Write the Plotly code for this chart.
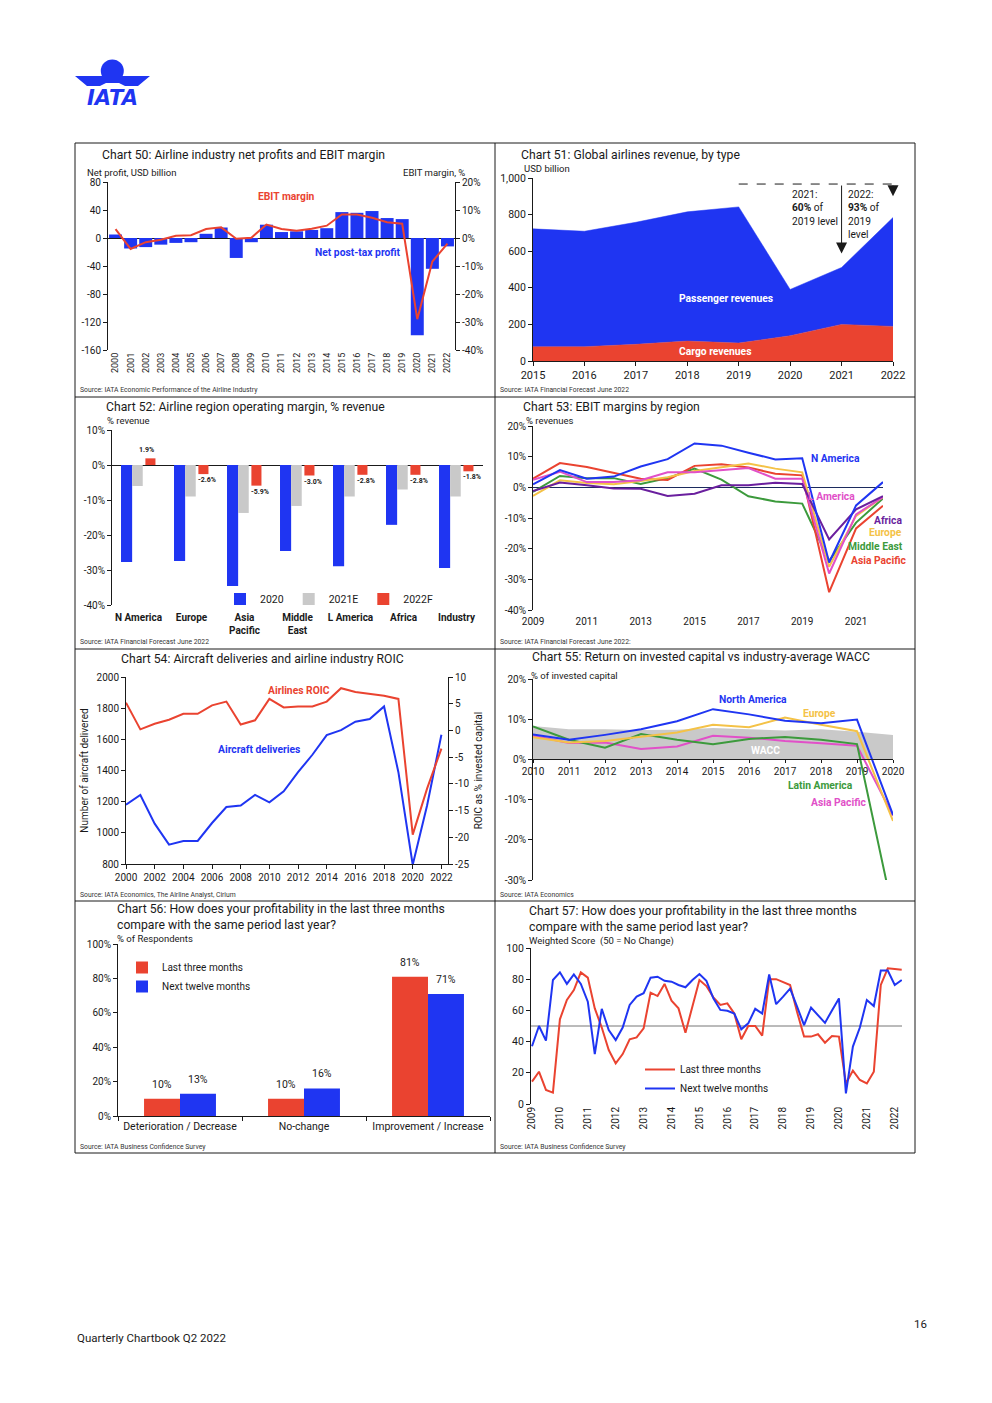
import plotly.graph_objects as go

# The browser page keeps its default 8px body margin, so the figure is sized to fill the
# 992x1403 window exactly and page-pixel positions are converted to figure fractions.
PAGE_W, PAGE_H, M = 992, 1403, 8
W, H = PAGE_W - 2 * M, PAGE_H - 2 * M
def X(p): return (p - M) / W
def Y(p): return 1 - (p - M) / H

FONT = "Roboto"
INK = "#1a1a1a"
BLUE = "#1f35f2"
RED = "#ea4330"
GREY = "#c9c9c9"
YELLOW = "#f4c247"
GREEN = "#3c9a3c"
PINK = "#e150c8"
PURPLE = "#6a1f9e"
NAVY = "#1c2b5e"

# ---------------- Data ----------------
# Chart 50
c50_years = list(range(2000, 2023))
c50_net_profit = [5, -15, -13, -9.5, -7, -6, 6, 15, -28.5, -6, 19, 8.5, 9.5, 11.5, 14, 37, 36, 38.5, 28.5, 27, -139, -44, -12]
c50_ebit_margin = [3.2, -3.9, -1.5, -0.6, 0.8, 1.0, 3.2, 3.8, -0.3, 0.1, 4.8, 3.2, 2.6, 3.3, 4.4, 8.4, 8.4, 7.2, 5.6, 5.1, -29.0, -8.4, -2.0]
c50_left_ticks = [-160, -120, -80, -40, 0, 40, 80]
c50_right_ticks = [-40, -30, -20, -10, 0, 10, 20]

# Chart 51
c51_years = list(range(2015, 2023))
c51_cargo = [78, 78, 91, 109, 98, 138, 200, 189]
c51_passenger = [644, 631, 667, 706, 744, 253, 311, 595]
c51_ticks = [0, 200, 400, 600, 800, 1000]
c51_ticktext = ["0", "200", "400", "600", "800", "1,000"]
c51_ref_level = 967
c51_arrow_2021 = 588
c51_arrow_2022 = 900

# Chart 52
c52_regions = ["N America", "Europe", "Asia Pacific", "Middle East", "L America", "Africa", "Industry"]
c52_region_labels = ["N America", "Europe", "Asia<br>Pacific", "Middle<br>East", "L America", "Africa", "Industry"]
c52_2020 = [-27.7, -27.4, -34.6, -24.6, -28.9, -17.1, -29.4]
c52_2021E = [-6.0, -9.0, -13.7, -11.7, -9.0, -7.0, -9.0]
c52_2022F = [1.9, -2.6, -5.9, -3.0, -2.8, -2.8, -1.8]
c52_ticks = [-40, -30, -20, -10, 0, 10]

# Chart 53
c53_years = list(range(2009, 2023))
c53_n_america = [1.0, 5.6, 2.8, 3.5, 6.8, 9.2, 14.3, 13.6, 11.3, 9.1, 9.5, -24.5, -5.9, 1.7]
c53_europe = [-2.8, 2.3, 1.4, 1.0, 2.1, 3.3, 5.3, 6.6, 7.8, 6.1, 4.9, -25.9, -9.3, -3.2]
c53_asia_pacific = [2.8, 7.9, 6.6, 4.7, 2.8, 2.4, 7.0, 7.5, 6.5, 4.4, 3.9, -34.2, -13.4, -6.0]
c53_middle_east = [-1.5, 3.7, 3.0, 3.0, 1.1, 3.0, 6.1, 2.5, -2.9, -4.6, -5.3, -24.0, -11.5, -3.6]
c53_l_america = [2.5, 5.1, 1.7, 1.7, 2.3, 4.9, 4.9, 5.5, 6.3, 2.8, 2.8, -28.1, -8.8, -3.2]
c53_africa = [-1.2, 1.6, 0.7, -0.4, -0.5, -2.8, -2.1, 0.7, 0.7, 1.5, 1.1, -17.0, -7.2, -2.9]
c53_ticks = [-40, -30, -20, -10, 0, 10, 20]
c53_xticks = [2009, 2011, 2013, 2015, 2017, 2019, 2021]

# Chart 54
c54_years = list(range(2000, 2023))
c54_deliveries = [1181, 1243, 1059, 924, 948, 948, 1063, 1166, 1175, 1243, 1196, 1267, 1389, 1501, 1627, 1659, 1713, 1730, 1811, 1389, 795, 1175, 1629]
c54_roic = [5.2, 0.2, 1.25, 2.0, 3.1, 3.1, 4.7, 5.4, 1.1, 1.9, 5.9, 4.3, 4.5, 4.5, 5.4, 7.9, 7.2, 6.8, 6.5, 5.9, -19.5, -10.9, -3.4]
c54_left_ticks = [800, 1000, 1200, 1400, 1600, 1800, 2000]
c54_right_ticks = [-25, -20, -15, -10, -5, 0, 5, 10]
c54_xticks = list(range(2000, 2023, 2))

# Chart 55
c55_years = list(range(2010, 2021))
c55_wacc = [8.3, 7.5, 7.5, 7.3, 7.4, 7.8, 7.5, 7.2, 7.5, 6.9, 6.1]
c55_north_america = [6.2, 4.9, 6.1, 7.5, 9.5, 12.5, 11.2, 9.6, 9.0, 9.9, -13.8]
c55_europe = [5.5, 4.2, 4.6, 5.7, 6.7, 8.6, 8.0, 10.4, 8.6, 7.0, -15.3]
c55_latin_america = [8.2, 4.9, 2.9, 6.3, 4.9, 3.8, 5.1, 5.6, 4.9, 3.8, -38.0]
c55_asia_pacific = [5.9, 4.1, 4.2, 2.6, 3.2, 5.9, 5.4, 4.6, 4.0, 3.4, -14.0]
c55_ticks = [-30, -20, -10, 0, 10, 20]

# Chart 56
c56_categories = ["Deterioration / Decrease", "No-change", "Improvement / Increase"]
c56_last_three = [10, 10, 81]
c56_next_twelve = [13, 16, 71]
c56_ticks = [0, 20, 40, 60, 80, 100]

# Chart 57 (quarterly, 2009 Q1 - 2022 Q2)
c57_quarters = [f"{y} Q{q}" for y in range(2009, 2023) for q in range(1, 5)][:54]
c57_last_three = [14.3, 20.7, 9, 7.3, 54.3, 66.7, 73, 84.4, 81, 61.3, 49, 34.6, 26, 32, 41.5, 42.7,
                  48.5, 71.4, 69.2, 77, 66.2, 61.3, 45.7, 62.8, 79.5, 75.6, 68.4, 63.5, 64.5, 58, 41.5, 50,
                  50, 43.8, 80, 80, 78.4, 76.3, 59, 43.2, 43.2, 44.7, 39.3, 43.6, 43.2, 13.2, 21.4, 15.4,
                  13.2, 20.7, 76.3, 87, 86.5, 86]
c57_next_twelve = [37, 50, 40.6, 79.5, 84.4, 77, 83, 77, 65.6, 32, 61, 47.4, 41, 49, 63.5, 68.8,
                   71, 81, 81.6, 79, 78.4, 76.3, 74.8, 79.5, 83.3, 79, 67.7, 60.3, 59.8, 58, 47.9, 51.7,
                   61, 58, 83, 64, 68.8, 74, 62.4, 50.6, 61.8, 57, 52, 60, 67.7, 6.8, 36.8, 49,
                   66.7, 62.8, 85.5, 85.5, 76.3, 79.5]
c57_no_change = 50
c57_ticks = [0, 20, 40, 60, 80, 100]
c57_xticks = list(range(2009, 2023))
c57_x = [int(s[:4]) + (int(s[-1]) - 1) / 4 for s in c57_quarters]

# ---------------- Helpers ----------------
TK = 10  # tick font size

def pct(vals):
    return [f"{v}%" for v in vals]

def yax(top, bottom, rng, vals, texts, anchor, size=TK, **kw):
    d = dict(domain=[Y(bottom), Y(top)], range=rng, tickvals=vals, ticktext=texts, anchor=anchor,
             showline=True, linecolor=INK, linewidth=1, ticks="outside", ticklen=4, tickcolor=INK,
             showgrid=False, zeroline=False, tickfont=dict(size=size, color=INK), fixedrange=True,
             automargin=False)
    d.update(kw)
    return d

def xax(left, right, anchor, size=TK, **kw):
    d = dict(domain=[X(left), X(right)], anchor=anchor, showgrid=False, zeroline=False,
             showline=False, ticks="", tickfont=dict(size=size, color=INK), fixedrange=True,
             automargin=False, tickangle=0)
    d.update(kw)
    return d

def note(x, y, text, size=10, color=INK, xanchor="left", yanchor="middle", bold=False, **kw):
    d = dict(xref="paper", yref="paper", x=X(x), y=Y(y), text=text, showarrow=False,
             xanchor=xanchor, yanchor=yanchor,
             font=dict(family=FONT, size=size, color=color, weight="bold" if bold else "normal"))
    d.update(kw)
    return d

fig = go.Figure()

# ---------------- Chart 50 ----------------
fig.add_bar(x=c50_years, y=c50_net_profit, width=0.86, marker=dict(color=BLUE, line=dict(width=0)),
            xaxis="x", yaxis="y", showlegend=False, name="Net post-tax profit")
fig.add_scatter(x=c50_years, y=c50_ebit_margin, mode="lines", line=dict(color=RED, width=2),
                xaxis="x", yaxis="y2", showlegend=False, name="EBIT margin")

# ---------------- Chart 51 ----------------
fig.add_scatter(x=c51_years, y=c51_cargo, stackgroup="rev", mode="lines", line=dict(color=RED, width=0.5),
                fillcolor=RED, xaxis="x2", yaxis="y3", showlegend=False, name="Cargo revenues")
fig.add_scatter(x=c51_years, y=c51_passenger, stackgroup="rev", mode="lines", line=dict(color=BLUE, width=0.5),
                fillcolor=BLUE, xaxis="x2", yaxis="y3", showlegend=False, name="Passenger revenues")

# ---------------- Chart 52 ----------------
fig.add_bar(x=c52_regions, y=c52_2020, width=0.21, offset=-0.33, marker=dict(color=BLUE, line=dict(width=0)),
            xaxis="x3", yaxis="y4", name="2020", legend="legend")
fig.add_bar(x=c52_regions, y=c52_2021E, width=0.2, offset=-0.12, marker=dict(color=GREY, line=dict(width=0)),
            xaxis="x3", yaxis="y4", name="2021E", legend="legend")
fig.add_bar(x=c52_regions, y=c52_2022F, width=0.19, offset=0.13, marker=dict(color=RED, line=dict(width=0)),
            xaxis="x3", yaxis="y4", name="2022F", legend="legend")

# ---------------- Chart 53 ----------------
for vals, col, nm in [(c53_middle_east, GREEN, "Middle East"), (c53_asia_pacific, RED, "Asia Pacific"),
                      (c53_europe, YELLOW, "Europe"), (c53_l_america, PINK, "L America"),
                      (c53_africa, PURPLE, "Africa"), (c53_n_america, BLUE, "N America")]:
    fig.add_scatter(x=c53_years, y=vals, mode="lines", line=dict(color=col, width=2),
                    xaxis="x4", yaxis="y5", showlegend=False, name=nm)

# ---------------- Chart 54 ----------------
fig.add_scatter(x=c54_years, y=c54_deliveries, mode="lines", line=dict(color=BLUE, width=2),
                xaxis="x5", yaxis="y6", showlegend=False, name="Aircraft deliveries")
fig.add_scatter(x=c54_years, y=c54_roic, mode="lines", line=dict(color=RED, width=2),
                xaxis="x5", yaxis="y7", showlegend=False, name="Airlines ROIC")

# ---------------- Chart 55 ----------------
fig.add_scatter(x=c55_years, y=c55_wacc, mode="lines", fill="tozeroy", fillcolor=GREY, line=dict(width=0, color=GREY),
                xaxis="x6", yaxis="y8", showlegend=False, name="WACC")
for vals, col, nm in [(c55_asia_pacific, PINK, "Asia Pacific"), (c55_latin_america, GREEN, "Latin America"),
                      (c55_europe, YELLOW, "Europe"), (c55_north_america, BLUE, "North America")]:
    fig.add_scatter(x=c55_years, y=vals, mode="lines", line=dict(color=col, width=2),
                    xaxis="x6", yaxis="y8", showlegend=False, name=nm)

# ---------------- Chart 56 ----------------
fig.add_bar(x=c56_categories, y=c56_last_three, width=0.29, offset=-0.29, marker=dict(color=RED, line=dict(width=0)),
            xaxis="x7", yaxis="y9", name="Last three months", legend="legend2")
fig.add_bar(x=c56_categories, y=c56_next_twelve, width=0.29, offset=0.0, marker=dict(color=BLUE, line=dict(width=0)),
            xaxis="x7", yaxis="y9", name="Next twelve months", legend="legend2")

# ---------------- Chart 57 ----------------
fig.add_scatter(x=c57_x, y=c57_last_three, mode="lines", line=dict(color=RED, width=2),
                xaxis="x8", yaxis="y10", name="Last three months", legend="legend3")
fig.add_scatter(x=c57_x, y=c57_next_twelve, mode="lines", line=dict(color=BLUE, width=2),
                xaxis="x8", yaxis="y10", name="Next twelve months", legend="legend3")

# ---------------- Axes ----------------
layout_axes = dict(
    # chart 50
    xaxis=xax(108, 455, "y", size=9, range=[1999.5, 2022.5], tickvals=c50_years,
              ticktext=[str(v) for v in c50_years], tickangle=-90),
    yaxis=yax(182, 350, [-160, 80], c50_left_ticks, [str(v) for v in c50_left_ticks], "x",
              zeroline=True, zerolinecolor=INK, zerolinewidth=1),
    yaxis2=yax(182, 350, [-40, 20], c50_right_ticks, pct(c50_right_ticks), "x", overlaying="y", side="right"),
    # chart 51
    xaxis2=xax(533, 893, "y3", size=11, range=[2015, 2022], tickvals=c51_years,
               ticktext=[str(v) for v in c51_years],
               showline=True, linecolor=INK, ticks="outside", ticklen=4, tickcolor=INK),
    yaxis3=yax(178, 361, [0, 1000], c51_ticks, c51_ticktext, "x2", size=10.5),
    # chart 52
    xaxis3=xax(112, 483, "y4", type="category", categoryorder="array", categoryarray=c52_regions,
               tickvals=c52_regions, ticktext=c52_region_labels, ticklabelstandoff=5,
               tickfont=dict(size=10, color=INK, weight="bold")),
    yaxis4=yax(430, 605, [-40, 10], c52_ticks, pct(c52_ticks), "x3",
               zeroline=True, zerolinecolor=INK, zerolinewidth=1),
    # chart 53
    xaxis4=xax(533, 883, "y5", range=[2009, 2022], tickvals=c53_xticks, ticktext=[str(v) for v in c53_xticks],
               ticklabelstandoff=4),
    yaxis5=yax(426, 610, [-40, 20], c53_ticks, pct(c53_ticks), "x4",
               zeroline=True, zerolinecolor=NAVY, zerolinewidth=1.2),
    # chart 54
    xaxis5=xax(126, 448, "y6", range=[2000, 2022.46], tickvals=c54_xticks, ticktext=[str(v) for v in c54_xticks],
               showline=True, linecolor=INK, ticks="outside", ticklen=4, tickcolor=INK),
    yaxis6=yax(677, 864, [800, 2000], c54_left_ticks, [str(v) for v in c54_left_ticks], "x5",
               title=dict(text="Number of aircraft delivered", font=dict(size=10, color=INK), standoff=6)),
    yaxis7=yax(677, 864, [-25, 10], c54_right_ticks, [str(v) for v in c54_right_ticks], "x5",
               overlaying="y6", side="right",
               title=dict(text="ROIC as % invested capital", font=dict(size=10, color=INK), standoff=6)),
    # chart 55
    xaxis6=xax(533, 893, "free", position=Y(759.4), range=[2010, 2020], tickvals=c55_years,
               ticktext=[str(v) for v in c55_years], showline=True, linecolor=INK, ticks="outside",
               ticklen=3, tickcolor=INK),
    yaxis8=yax(679, 880, [-30, 20], c55_ticks, pct(c55_ticks), "x6"),
    # chart 56
    xaxis7=xax(118, 490, "y9", size=10.5, type="category", showline=True, linecolor=INK, ticks="outside",
               ticklen=4, tickcolor=INK, tickson="boundaries"),
    yaxis9=yax(944, 1116, [0, 100], c56_ticks, pct(c56_ticks), "x7"),
    # chart 57
    xaxis8=xax(531, 902, "y10", range=[2008.964, 2022.26], tickvals=c57_xticks,
               ticktext=[str(v) for v in c57_xticks], tickangle=-90),
    yaxis10=yax(948, 1104, [0, 100], c57_ticks, [str(v) for v in c57_ticks], "x8", size=10.5),
)

# ---------------- Shapes ----------------
shapes = []
line_k = dict(color=INK, width=1)
shapes.append(dict(type="rect", xref="paper", yref="paper", x0=X(75), x1=X(915), y0=Y(1153), y1=Y(143), line=line_k))
shapes.append(dict(type="line", xref="paper", yref="paper", x0=X(495), x1=X(495), y0=Y(1153), y1=Y(143), line=line_k))
for yy in [397, 649, 901]:
    shapes.append(dict(type="line", xref="paper", yref="paper", x0=X(75), x1=X(915), y0=Y(yy), y1=Y(yy), line=line_k))
# chart 51 reference dashed line
shapes.append(dict(type="line", xref="x2", yref="y3", x0=2019, x1=2022, y0=c51_ref_level, y1=c51_ref_level,
                   line=dict(color=INK, width=1, dash="dash")))
# chart 57 no-change line
shapes.append(dict(type="line", xref="x8 domain", yref="y10", x0=0, x1=1, y0=c57_no_change, y1=c57_no_change,
                   line=dict(color="#777777", width=1), layer="below"))
# IATA logo
shapes.append(dict(type="circle", xref="paper", yref="paper", x0=X(100.8), x1=X(123.8), y0=Y(82.5), y1=Y(59.5),
                   fillcolor=BLUE, line=dict(width=0)))
wing = [(75, 76), (150, 76), (138, 86), (125, 86), (119, 83), (106, 83), (100, 86), (87, 86)]
path = "M " + " L ".join(f"{X(a):.5f},{Y(b):.5f}" for a, b in wing) + " Z"
shapes.append(dict(type="path", xref="paper", yref="paper", path=path, fillcolor=BLUE, line=dict(width=0)))

# ---------------- Annotations ----------------
ann = []
TS = 12.2
ann += [
    note(100, 155, "Chart 50: Airline industry net profits and EBIT margin", TS),
    note(519, 155, "Chart 51: Global airlines revenue, by type", TS),
    note(104, 407, "Chart 52: Airline region operating margin, % revenue", TS),
    note(521, 407, "Chart 53: EBIT margins by region", TS),
    note(119, 659, "Chart 54: Aircraft deliveries and airline industry ROIC", TS),
    note(530, 657, "Chart 55: Return on invested capital vs industry-average WACC", TS),
    note(115, 916.5, "Chart 56: How does your profitability in the last three months<br>compare with the same period last year?", TS, align="left"),
    note(527, 918.5, "Chart 57: How does your profitability in the last three months<br>compare with the same period last year?", TS, align="left"),
]
US = 9.5
ann += [
    note(85, 173, "Net profit, USD billion", US),
    note(467, 173, "EBIT margin, %", US, xanchor="right"),
    note(522, 168, "USD billion", US),
    note(105, 421, "% revenue", US),
    note(524, 421, "% revenues", US),
    note(529, 675, "% of invested capital", US),
    note(115, 938, "% of Respondents", US),
    note(527, 941, "Weighted Score \u00a0(50 = No Change)", US),
]
SS, SC = 6.8, "#333333"
ann += [
    note(78, 390, "Source: IATA Economic Performance of the Airline Industry", SS, SC),
    note(498, 390, "Source: IATA Financial Forecast June 2022", SS, SC),
    note(78, 642, "Source: IATA Financial Forecast June 2022", SS, SC),
    note(498, 642, "Source: IATA Financial Forecast June 2022:", SS, SC),
    note(78, 895, "Source: IATA Economics, The Airline Analyst, Cirium", SS, SC),
    note(498, 895, "Source: IATA Economics", SS, SC),
    note(78, 1147, "Source: IATA Business Confidence Survey", SS, SC),
    note(498, 1147, "Source: IATA Business Confidence Survey", SS, SC),
]
LS = 10.3
ann += [
    note(286, 196, "EBIT margin", LS, RED, "center", bold=True),
    note(358, 252, "Net post-tax profit", LS, BLUE, "center", bold=True),
    note(726, 298, "Passenger revenues", LS, "white", "center", bold=True),
    note(715, 351, "Cargo revenues", LS, "white", "center", bold=True),
    note(809, 458, "N America", LS, BLUE, bold=True),
    note(806, 496, "L America", LS, PINK, bold=True),
    note(904, 520, "Africa", LS, PURPLE, "right", bold=True),
    note(904, 533, "Europe", LS, YELLOW, "right", bold=True),
    note(905, 546, "Middle East", LS, GREEN, "right", bold=True),
    note(908, 560, "Asia Pacific", LS, RED, "right", bold=True),
    note(299, 690, "Airlines ROIC", LS, RED, "center", bold=True),
    note(259, 749, "Aircraft deliveries", LS, BLUE, "center", bold=True),
    note(753, 699, "North America", LS, BLUE, "center", bold=True),
    note(819, 713, "Europe", LS, YELLOW, "center", bold=True),
    note(820, 785, "Latin America", LS, GREEN, "center", bold=True),
    note(838, 802, "Asia Pacific", LS, PINK, "center", bold=True),
    note(765, 750, "WACC", LS, "white", "center", bold=True),
]
# chart 51 callouts
ann += [
    note(790, 187, "2021:<br><b>60%</b> of<br>2019 level", 10.2, INK, "left", "top", align="left"),
    note(846, 187, "2022:<br><b>93%</b> of<br>2019<br>level", 10.2, INK, "left", "top", align="left"),
    dict(xref="x2", yref="y3", x=2021, y=c51_arrow_2021, ax=2021, ay=c51_ref_level, axref="x2", ayref="y3",
         text="", showarrow=True, arrowhead=2, arrowsize=2.2, arrowwidth=1, arrowcolor=INK),
    dict(xref="x2", yref="y3", x=2022, y=c51_arrow_2022, ax=2022, ay=c51_ref_level, axref="x2", ayref="y3",
         text="", showarrow=True, arrowhead=2, arrowsize=2.2, arrowwidth=1, arrowcolor=INK),
]
# chart 52 value labels (2022F)
for reg, v in zip(c52_regions, c52_2022F):
    if v >= 0:
        ann.append(dict(xref="x3", yref="y4", x=reg, y=v, text=f"{v:.1f}%", showarrow=False, xshift=8,
                        yanchor="bottom", yshift=2, font=dict(family=FONT, size=7, color=INK, weight="bold")))
    else:
        ann.append(dict(xref="x3", yref="y4", x=reg, y=v, text=f"{v:.1f}%", showarrow=False, xshift=15,
                        yanchor="top", yshift=0, font=dict(family=FONT, size=7, color=INK, weight="bold")))
# chart 56 value labels
for cat, a, b in zip(c56_categories, c56_last_three, c56_next_twelve):
    ann.append(dict(xref="x7", yref="y9", x=cat, y=a, text=f"{a}%", showarrow=False, xshift=-18,
                    yanchor="bottom", yshift=6, font=dict(family=FONT, size=10.5, color=INK)))
    ann.append(dict(xref="x7", yref="y9", x=cat, y=b, text=f"{b}%", showarrow=False, xshift=18,
                    yanchor="bottom", yshift=6, font=dict(family=FONT, size=10.5, color=INK)))
# logo + footer
ann += [
    dict(xref="paper", yref="paper", x=X(85), y=Y(97.5), text="IATA", showarrow=False, xanchor="left",
         yanchor="middle", font=dict(family="DejaVu Sans", size=21, color=BLUE, weight="bold", style="italic")),
    note(75, 1338, "Quarterly Chartbook Q2 2022", 11.5),
    note(929, 1324, "16", 11.5, xanchor="right"),
]

fig.update_layout(
    width=W, height=H, margin=dict(l=0, r=0, t=0, b=0, pad=0, autoexpand=False), autosize=False,
    paper_bgcolor="white", plot_bgcolor="rgba(0,0,0,0)",
    font=dict(family=FONT, size=10, color=INK),
    barmode="overlay",
    shapes=shapes, annotations=ann,
    legend=dict(orientation="h", x=X(220), y=Y(599), xanchor="left", yanchor="middle",
                font=dict(size=10.5), bgcolor="rgba(0,0,0,0)", itemwidth=30, traceorder="normal"),
    legend2=dict(x=X(122), y=Y(953), xanchor="left", yanchor="top", font=dict(size=10),
                 bgcolor="rgba(0,0,0,0)", itemwidth=30, traceorder="normal"),
    legend3=dict(x=X(640), y=Y(1055), xanchor="left", yanchor="top", font=dict(size=10),
                 bgcolor="rgba(0,0,0,0)", itemwidth=30, traceorder="normal"),
    **layout_axes,
)

fig.write_html("out.html", config={"displayModeBar": False})
